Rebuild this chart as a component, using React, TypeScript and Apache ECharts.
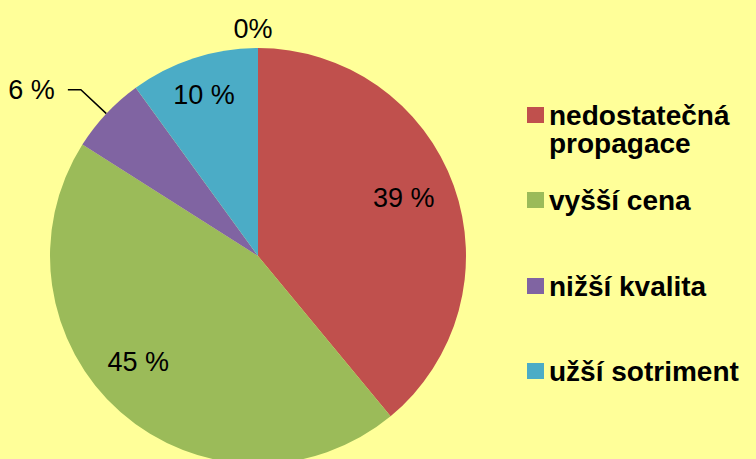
import React, { useEffect, useRef } from "react";
import * as echarts from "echarts";

const categories = ["nedostatečná propagace", "vyšší cena", "nižší kvalita", "užší sotriment", ""];
const values = [39, 45, 6, 10, 0];
const valueLabels = ["39 %", "45 %", "6 %", "10 %", "0%"];
const colors = ["#C0504D", "#9BBB59", "#8064A2", "#4BACC6", "#F79646"];
// label nudges (px) from the default inside position
const labelShift: (number[] | null)[] = [[45, -22], [-49, 26], null, [-21, -59], [-5, -120]];
const legendTops = [73, 186, 272, 357];

const FONT = "'Liberation Sans', Arial, sans-serif";

export default function App() {
  const ref = useRef<HTMLDivElement>(null);
  useEffect(() => {
    document.body.style.margin = "0";
    const chart = echarts.init(ref.current!, null, { renderer: "svg" });
    const data = values.map((v, i) => ({
      name: categories[i],
      value: v,
      itemStyle: { color: colors[i] },
      label:
        i === 2
          ? {
              show: true,
              position: "outside",
              formatter: valueLabels[i],
              padding: [0, 0, 24, 0],
              distanceToLabelLine: 13,
            }
          : { show: true, position: "inside", formatter: valueLabels[i] },
      labelLine:
        i === 2
          ? { show: true, length: 35, length2: 13, lineStyle: { color: "#000", width: 1.5 } }
          : { show: false },
    }));
    const legends = categories.slice(0, 4).map((c, i) => ({
      data: [c],
      left: 527,
      top: legendTops[i],
      padding: 0,
      icon: "rect",
      itemWidth: 17,
      itemHeight: 16,
      selectedMode: false,
      formatter: (n: string) => (n === categories[0] ? " \nnedostatečná\npropagace" : n),
      textStyle: {
        fontFamily: FONT,
        fontWeight: "bold",
        fontSize: 28,
        color: "#000",
        lineHeight: 28,
      },
    }));
    chart.setOption({
      animation: false,
      backgroundColor: "#FFFF99",
      legend: legends,
      series: [
        {
          type: "pie",
          center: [258, 256],
          radius: 208,
          startAngle: 90,
          clockwise: true,
          avoidLabelOverlap: false,
          emphasis: { disabled: true },
          itemStyle: { borderWidth: 0 },
          label: {
            color: "#000",
            fontFamily: FONT,
            fontSize: 27,
          },
          labelLayout: (params: any) => {
            const s = labelShift[params.dataIndex];
            return s ? { dx: s[0], dy: s[1] } : {};
          },
          data,
        },
      ],
    });
    return () => chart.dispose();
  }, []);
  return <div ref={ref} style={{ width: 756, height: 459 }} />;
}
